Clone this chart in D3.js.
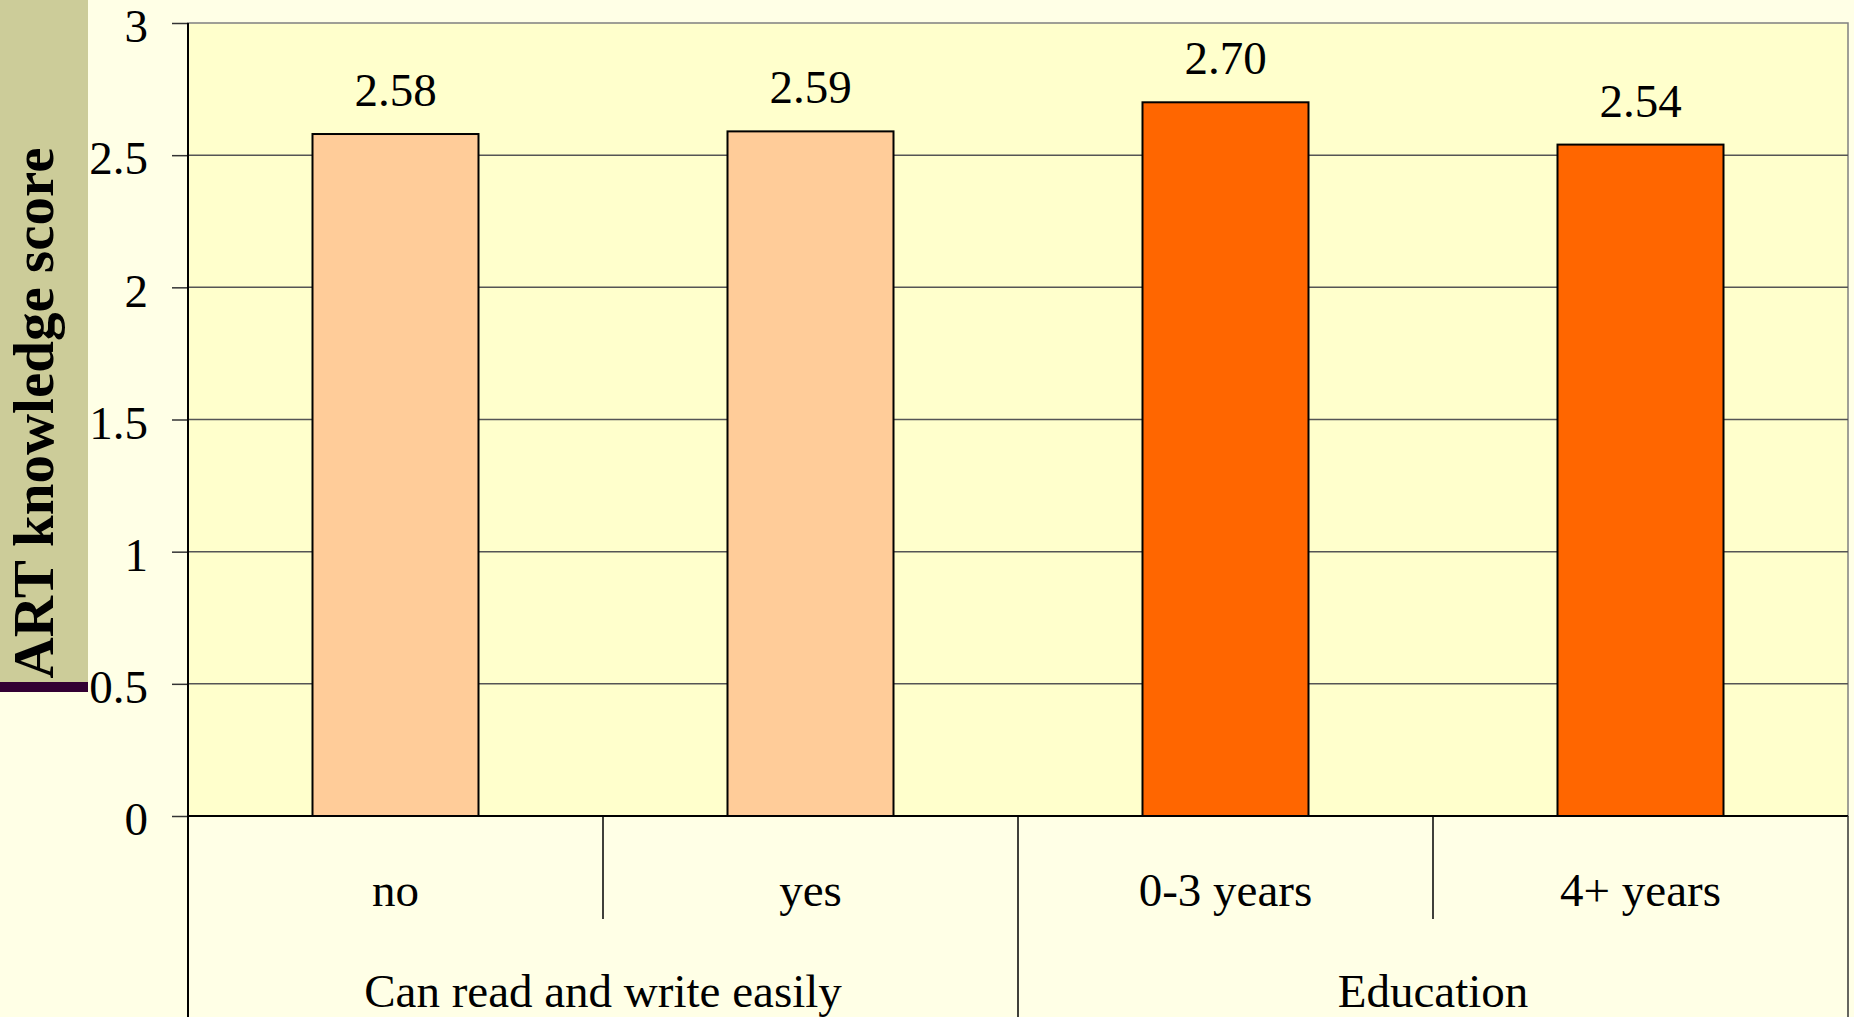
<!DOCTYPE html>
<html>
<head>
<meta charset="utf-8">
<script src="https://cdn.jsdelivr.net/npm/d3@7"></script>
<style>
  html, body { margin: 0; padding: 0; background: #ffffe6; overflow: hidden; }
  text { font-family: "Liberation Serif", "Times New Roman", serif; fill: #000; }
</style>
</head>
<body>
<div id="chart"></div>
<script>
// Data
const categories = ["no", "yes", "0-3 years", "4+ years"];
const groupOf    = ["Can read and write easily", "Can read and write easily", "Education", "Education"];
const groups     = ["Can read and write easily", "Education"];
const values     = [2.58, 2.59, 2.70, 2.54];
const yTicks     = [0, 0.5, 1, 1.5, 2, 2.5, 3];
const groupColors = ["#ffcc99", "#ff6600"];

const W = 1854, H = 1017;
const plot = { left: 188, right: 1848, top: 23, bottom: 816 };
const fontSize = "47px";

const svg = d3.select("#chart")
    .append("svg")
    .attr("width", W)
    .attr("height", H);

// left title band
svg.append("rect")
    .attr("x", 0).attr("y", 0)
    .attr("width", 88).attr("height", 682)
    .attr("fill", "#cccc99");
svg.append("rect")
    .attr("x", 0).attr("y", 682)
    .attr("width", 88).attr("height", 10)
    .attr("fill", "#330033");

const x = d3.scaleBand()
    .domain(categories)
    .range([plot.left, plot.right])
    .paddingInner(0.6)
    .paddingOuter(0.3);

const y = d3.scaleLinear()
    .domain([0, 3])
    .range([plot.bottom, plot.top]);

const color = d3.scaleOrdinal()
    .domain(groups)
    .range(groupColors);

// plot area
svg.append("rect")
    .attr("x", plot.left).attr("y", plot.top)
    .attr("width", plot.right - plot.left)
    .attr("height", plot.bottom - plot.top)
    .attr("fill", "#ffffcc")
    .attr("stroke", "#808080")
    .attr("stroke-width", 1.5);

// gridlines
svg.selectAll(".grid")
    .data(yTicks.filter(d => d > 0 && d < 3))
    .enter()
    .append("line")
    .attr("class", "grid")
    .attr("x1", plot.left).attr("x2", plot.right)
    .attr("y1", d => y(d)).attr("y2", d => y(d))
    .attr("stroke", "#555")
    .attr("stroke-width", 1.5);

// y axis
const yAxis = d3.axisLeft(y)
    .tickValues(yTicks)
    .tickFormat(d => d)
    .tickSize(16)
    .tickPadding(24);

const yg = svg.append("g")
    .attr("transform", `translate(${plot.left},0)`)
    .call(yAxis);
yg.select(".domain").remove();
yg.selectAll(".tick line").attr("stroke", "#333").attr("stroke-width", 1.5);
yg.selectAll(".tick text")
    .attr("dy", "0.4em")
    .style("font-size", fontSize)
    .style("font-family", "'Liberation Serif', serif")
    .attr("fill", "#000");

// bars
svg.selectAll(".bar")
    .data(values)
    .enter()
    .append("rect")
    .attr("class", "bar")
    .attr("x", (d, i) => x(categories[i]))
    .attr("width", x.bandwidth())
    .attr("y", d => y(d))
    .attr("height", d => y(0) - y(d))
    .attr("fill", (d, i) => color(groupOf[i]))
    .attr("stroke", "#000")
    .attr("stroke-width", 2);

// value labels
svg.selectAll(".val")
    .data(values)
    .enter()
    .append("text")
    .attr("class", "val")
    .attr("x", (d, i) => x(categories[i]) + x.bandwidth() / 2)
    .attr("y", d => y(d) - 28)
    .attr("text-anchor", "middle")
    .style("font-size", fontSize)
    .text(d => d.toFixed(2));

// axes lines
svg.append("line")
    .attr("x1", plot.left).attr("x2", plot.left)
    .attr("y1", plot.top).attr("y2", H)
    .attr("stroke", "#000").attr("stroke-width", 2);
svg.append("line")
    .attr("x1", plot.left).attr("x2", plot.right)
    .attr("y1", plot.bottom).attr("y2", plot.bottom)
    .attr("stroke", "#000").attr("stroke-width", 2);
svg.append("line")
    .attr("x1", plot.right).attr("x2", plot.right)
    .attr("y1", plot.bottom).attr("y2", H)
    .attr("stroke", "#333").attr("stroke-width", 1.5);

// category dividers
const step = x.step();
categories.forEach((c, i) => {
    if (i === 0) return;
    const xx = x(c) - x.paddingInner() * step / 2;
    const full = groupOf[i] !== groupOf[i - 1];
    svg.append("line")
        .attr("x1", xx).attr("x2", xx)
        .attr("y1", plot.bottom)
        .attr("y2", full ? H : 919)
        .attr("stroke", "#000").attr("stroke-width", 1.5);
});

// category labels
svg.selectAll(".cat")
    .data(categories)
    .enter()
    .append("text")
    .attr("class", "cat")
    .attr("x", d => x(d) + x.bandwidth() / 2)
    .attr("y", 906)
    .attr("text-anchor", "middle")
    .style("font-size", fontSize)
    .text(d => d);

// group labels
svg.selectAll(".grp")
    .data(groups)
    .enter()
    .append("text")
    .attr("class", "grp")
    .attr("x", g => {
        const cs = categories.filter((c, i) => groupOf[i] === g);
        return d3.mean(cs, c => x(c) + x.bandwidth() / 2);
    })
    .attr("y", 1007)
    .attr("text-anchor", "middle")
    .style("font-size", fontSize)
    .text(d => d);

// y title
svg.append("text")
    .attr("transform", "translate(53,413) rotate(-90)")
    .attr("text-anchor", "middle")
    .style("font-size", "57px")
    .style("font-weight", "bold")
    .text("ART knowledge score");
</script>
</body>
</html>
